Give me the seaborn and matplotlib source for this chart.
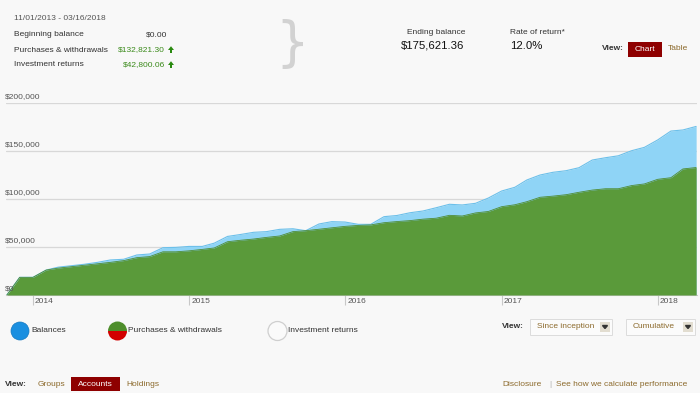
import numpy as np
import pandas as pd
import matplotlib
matplotlib.use("Agg")
import matplotlib.pyplot as plt
import matplotlib.transforms as mtransforms
from matplotlib.patches import Rectangle, Circle, Wedge, Polygon
import seaborn as sns

# ---------------- data ----------------
months = ["2013-11", "2013-12", "2014-01", "2014-02", "2014-03", "2014-04", "2014-05", "2014-06",
          "2014-07", "2014-08", "2014-09", "2014-10", "2014-11", "2014-12", "2015-01", "2015-02",
          "2015-03", "2015-04", "2015-05", "2015-06", "2015-07", "2015-08", "2015-09", "2015-10",
          "2015-11", "2015-12", "2016-01", "2016-02", "2016-03", "2016-04", "2016-05", "2016-06",
          "2016-07", "2016-08", "2016-09", "2016-10", "2016-11", "2016-12", "2017-01", "2017-02",
          "2017-03", "2017-04", "2017-05", "2017-06", "2017-07", "2017-08", "2017-09", "2017-10",
          "2017-11", "2017-12", "2018-01", "2018-02", "2018-03", "2018-04"]
# purchases & withdrawals (green), in $1000
purchases = [0, 18.4, 18.4, 26, 28, 29.5, 31, 32.5, 34, 35.8, 38.9, 40, 45, 45, 46, 47.5,
             49, 55.5, 57, 58.3, 60, 61.5, 66, 67, 68.5, 70, 71.5, 72.5, 73, 75.3, 76.5, 77.5,
             79, 80, 83, 82.3, 85.5, 87, 92, 94, 97.2, 101.8, 103, 104.5, 107, 109.3, 110.7, 110.7,
             114, 115.7, 120.5, 122.2, 131.3, 132.8]
# balances (blue), in $1000
balances = [0, 18.4, 18.4, 26, 29, 30.5, 32, 34, 36.5, 37.2, 41.7, 42.7, 49.3, 49.6, 50.6, 50.6,
            54, 61, 63, 65.3, 66, 68.4, 69, 67, 74, 76.4, 76, 73.6, 73.6, 81.6, 82.8, 85.7,
            87.5, 90.9, 94.5, 93.8, 95.5, 101, 108.3, 112.2, 119.8, 125, 127.8, 129.5, 132.6, 140.6, 143, 145,
            150.3, 153.8, 161.5, 170.8, 171.9, 175.6]
ytick_vals = [0, 50000, 100000, 150000, 200000]
ytick_labels = ["$0", "$50,000", "$100,000", "$150,000", "$200,000"]
years = ["2014", "2015", "2016", "2017", "2018"]

df = pd.DataFrame({
    "date": pd.to_datetime(months),
    "purchases": np.array(purchases) * 1000,
    "balances": np.array(balances) * 1000,
})

# ---------------- style ----------------
BG = "#f8f8f8"
GREEN = "#5a9a3a"
GREEN_EDGE = "#4f8c32"
BLUE = "#8fd4f6"
BLUE_EDGE = "#6cc0ea"
TXT = "#333333"
LINK = "#8c6a2c"
RED = "#8e0000"
GRID = "#d8d8d8"

sns.set_theme(style="white")
plt.rcParams["font.family"] = ["Liberation Sans", "DejaVu Sans"]
plt.rcParams["figure.facecolor"] = BG

W, H = 700, 393
fig = plt.figure(figsize=(7.0, 3.93), dpi=100)
fig.patch.set_facecolor(BG)

# chart axes in pixel coords: left 6, right 697, top 103, bottom 295
L, R, T, B = 6, 697, 103, 295
ax = fig.add_axes([L / W, (H - B) / H, (R - L) / W, (B - T) / H])
ax.set_facecolor(BG)

ax.fill_between(df["date"], df["balances"], color=BLUE, lw=0, zorder=2)
sns.lineplot(data=df, x="date", y="balances", ax=ax, color=BLUE_EDGE, lw=0.8, zorder=3)
ax.fill_between(df["date"], df["purchases"], color=GREEN, lw=0, zorder=4)
sns.lineplot(data=df, x="date", y="purchases", ax=ax, color=GREEN_EDGE, lw=0.6, zorder=5)

ax.set_ylim(0, 200000)
ax.set_xlim(pd.Timestamp("2013-10-30"), pd.Timestamp("2018-04-03"))
ax.set_yticks(ytick_vals)
ax.set_yticklabels([])
ax.yaxis.grid(True, color=GRID, lw=0.9)
ax.tick_params(axis="y", length=0)
ax.set_xlabel("")
ax.set_ylabel("")
year_dates = [pd.Timestamp(f"{y}-01-01") for y in years]
ax.set_xticks(year_dates)
ax.set_xticklabels([])
ax.tick_params(axis="x", direction="out", length=7, width=0.8, color="#c8c8c8", bottom=True)
for s in ["top", "left", "right"]:
    ax.spines[s].set_visible(False)
ax.spines["bottom"].set_color("#c8c8c8")
ax.spines["bottom"].set_linewidth(0.8)

yblend = mtransforms.blended_transform_factory(ax.transAxes, ax.transData)
for v, lab in zip(ytick_vals, ytick_labels):
    ax.annotate(lab, xy=(0, v), xycoords=yblend, xytext=(-0.5, 2.0), textcoords="offset points",
                ha="left", va="bottom", fontsize=6, color="#555555", zorder=10)
for d, lab in zip(year_dates, years):
    ax.annotate(lab, xy=(d, 0), xycoords=("data", "axes fraction"), xytext=(1.5, -2.5),
                textcoords="offset points", ha="left", va="top", fontsize=6, color="#555555",
                annotation_clip=False)

# ---------------- overlay for page decorations (pixel coords) ----------------
ov = fig.add_axes([0, 0, 1, 1], zorder=20)
ov.set_xlim(0, W)
ov.set_ylim(H, 0)
ov.axis("off")
ov.patch.set_visible(False)

def t(x, y, s, **kw):
    kw.setdefault("fontsize", 6)
    kw.setdefault("color", TXT)
    kw.setdefault("va", "center")
    ov.text(x, y, s, **kw)

def up_arrow(cx, cy):
    head = [(cx - 3, cy), (cx + 3, cy), (cx, cy - 3.8)]
    ov.add_patch(Polygon(head, closed=True, color="#2a8a10", lw=0))
    ov.add_patch(Rectangle((cx - 1.0, cy - 0.2), 2.0, 3.6, color="#2a8a10", lw=0))

# top-left summary
t(14, 19, "11/01/2013 - 03/16/2018", color="#555555")
t(14, 35, "Beginning balance")
t(14, 50, "Purchases & withdrawals")
t(14, 65, "Investment returns")
t(167, 35, "$0.00", ha="right")
t(165, 50, "$132,821.30", ha="right", color="#3a8a1a")
t(165, 65, "$42,800.06", ha="right", color="#3a8a1a")
up_arrow(171, 50)
up_arrow(171, 65)
t(292, 45, "}", fontsize=38, color="#d2d2d2", ha="center", family=["DejaVu Sans"])

# top-middle
t(436, 33, "Ending balance", ha="center")
t(433, 46, "$175,621.36", ha="center", fontsize=8.2, color="#111111")
t(510, 33, "Rate of return*")
t(510, 46, "12.0%", fontsize=8.2, color="#111111")

# top-right view switch
t(602, 49, "View:", fontweight="bold")
ov.add_patch(Rectangle((628, 42), 34, 15, color=RED, lw=0))
t(645, 49.5, "Chart", ha="center", color="white")
t(668, 49, "Table", color=LINK)

# legend circles
ov.add_patch(Circle((20, 331), 9, facecolor="#1a8fe0", edgecolor="#1478c0", lw=0.5))
ov.add_patch(Wedge((117.5, 331), 9.5, 180, 360, facecolor="#4e8e2c", lw=0))
ov.add_patch(Wedge((117.5, 331), 9.5, 0, 180, facecolor="#d20000", lw=0))
ov.add_patch(Circle((277.5, 331), 9.5, facecolor="#fafafa", edgecolor="#cfcfcf", lw=0.9))
t(31, 330, "Balances")
t(128, 330, "Purchases & withdrawals")
t(288, 330, "Investment returns")

# dropdowns
t(502, 326, "View:", fontweight="bold")
ov.add_patch(Rectangle((530, 319), 82, 16, facecolor="#fbfbfb", edgecolor="#dcdcdc", lw=0.7))
t(537, 327, "Since inception", color=LINK)
ov.add_patch(Rectangle((600, 322), 10, 10, facecolor="#e2ddd0", lw=0))
ov.fill([602.5, 607.5, 605], [325.5, 325.5, 328.5], color="#333333")
ov.add_patch(Rectangle((626, 319), 69, 16, facecolor="#fbfbfb", edgecolor="#dcdcdc", lw=0.7))
t(633, 327, "Cumulative", color=LINK)
ov.add_patch(Rectangle((683, 322), 10, 10, facecolor="#e2ddd0", lw=0))
ov.fill([685.5, 690.5, 688], [325.5, 325.5, 328.5], color="#333333")

# bottom nav
t(5, 384, "View:", fontweight="bold")
t(38, 384, "Groups", color=LINK)
ov.add_patch(Rectangle((71, 377), 49, 14, color=RED, lw=0))
t(95.5, 384, "Accounts", ha="center", color="white")
t(126, 384, "Holdings", color=LINK)
t(502, 384, "Disclosure", color=LINK)
t(549, 384, "|", color="#aaaaaa")
t(556, 384, "See how we calculate performance", color=LINK)

fig.savefig("out.png", dpi=100, facecolor=BG)
